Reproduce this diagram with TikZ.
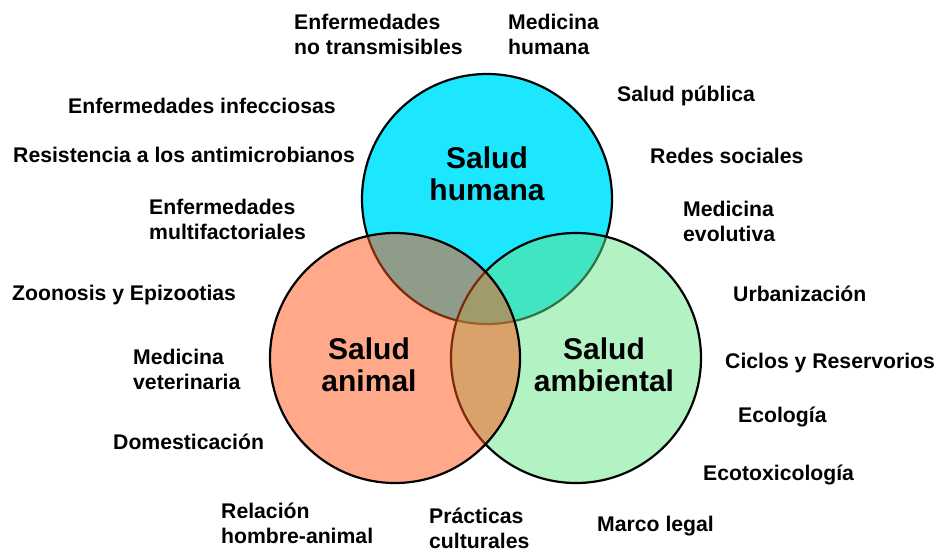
\documentclass[tikz,border=0pt]{standalone}
\usepackage{xcolor}
\usepackage{fontspec}
\setmainfont{Liberation Sans}
\usepackage{pgf,tikz}
\usetikzlibrary{shapes,positioning,calc}

\definecolor{humcol}{RGB}{29,230,255}
\definecolor{anicol}{RGB}{255,83,21}
\definecolor{ambcol}{RGB}{103,229,135}

\begin{document}
\begin{tikzpicture}[x=1pt,y=-1pt,
    area/.style={shape=circle,draw=black,line width=2.2pt,inner sep=0pt,minimum size=250pt},
    title/.style={font=\fontsize{30}{32}\selectfont\bfseries,align=center},
    item/.style={font=\fontsize{21.2}{25}\selectfont\bfseries,align=left,anchor=base west,inner sep=0pt}]
    \useasboundingbox (0,0) rectangle (938,552);
    % the three circles
    \node[area,fill=humcol] (H) at (487,199) {};
    \node[area,fill=ambcol,fill opacity=0.5] (E) at (576,358) {};
    \node[area,fill=anicol,fill opacity=0.5] (A) at (395,358) {};
    % titles
    \node[title] (TH) at (487,174) {Salud\\humana};
    \node[title] (TA) at (369,365) {Salud\\animal};
    \node[title] (TE) at (604,365) {Salud\\ambiental};
    % human side (two-line items sit on their last baseline)
    \node[item] (h1) at (294,54) {Enfermedades\\no transmisibles};
    \node[item] (h2) at (508,54) {Medicina\\humana};
    \node[item] (h3) at (68,113) {Enfermedades infecciosas};
    \node[item] (h4) at (617,101) {Salud pública};
    \node[item] (h5) at (13,162) {Resistencia a los antimicrobianos};
    \node[item] (h6) at (650,163) {Redes sociales};
    \node[item] (h7) at (149,239) {Enfermedades\\multifactoriales};
    \node[item] (h8) at (683,241) {Medicina\\evolutiva};
    % animal side
    \node[item] (a1) at (12,300) {Zoonosis y Epizootias};
    \node[item] (a2) at (133,389) {Medicina\\veterinaria};
    \node[item] (a3) at (113,449) {Domesticación};
    \node[item] (a4) at (221,543) {Relación\\hombre-animal};
    \node[item] (a5) at (429,548) {Prácticas\\culturales};
    % environment side
    \node[item] (e1) at (733,301) {Urbanización};
    \node[item] (e2) at (725,368) {Ciclos y Reservorios};
    \node[item] (e3) at (738,422) {Ecología};
    \node[item] (e4) at (703,480) {Ecotoxicología};
    \node[item] (e5) at (597,531) {Marco legal};
\end{tikzpicture}
\end{document}
